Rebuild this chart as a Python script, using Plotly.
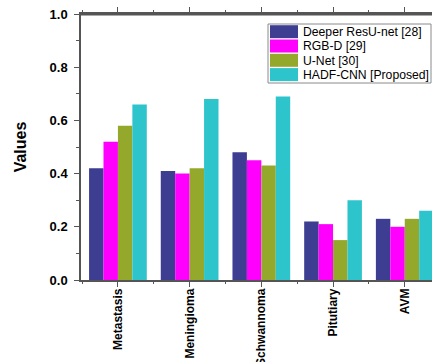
import plotly.graph_objects as go

categories = ["Metastasis", "Meningioma", "Schwannoma", "Pitutiary", "AVM"]
series_names = ["Deeper ResU-net [28]", "RGB-D [29]", "U-Net [30]", "HADF-CNN [Proposed]"]
deeper_resunet = [0.42, 0.41, 0.48, 0.22, 0.23]
rgb_d = [0.52, 0.40, 0.45, 0.21, 0.20]
u_net = [0.58, 0.42, 0.43, 0.15, 0.23]
hadf_cnn = [0.66, 0.68, 0.69, 0.30, 0.26]
y_tick_values = [0.0, 0.2, 0.4, 0.6, 0.8, 1.0]

series_values = [deeper_resunet, rgb_d, u_net, hadf_cnn]
colors = ["#3D3D92", "#FF00FF", "#94A82C", "#2EC4CC"]

W, H = 432, 362
L, R, T, B = 81, 0, 14, 82
pw, ph = W - L - R, H - T - B

fig = go.Figure()
xs = list(range(len(categories)))
for name, vals, col in zip(series_names, series_values, colors):
    fig.add_trace(go.Bar(x=xs, y=vals, name=name, marker=dict(color=col, line=dict(width=0)),
                         showlegend=False))

axis_col = "#555555"
FONT = "Liberation Sans, Arial, sans-serif"
fig.update_layout(
    width=W, height=H,
    margin=dict(l=L, r=R, t=T, b=B, pad=0),
    paper_bgcolor="white", plot_bgcolor="white",
    barmode="group", bargap=0.195, bargroupgap=0,
    font=dict(family=FONT, color="black"),
    xaxis=dict(
        range=[-0.515, 4.38], tickmode="array", tickvals=xs, ticktext=categories,
        tickangle=-90, ticks="outside", ticklen=5, tickwidth=1.2, tickcolor=axis_col,
        showline=True, linecolor=axis_col, linewidth=1.5, mirror="all",
        showgrid=False, zeroline=False, automargin=False, ticklabeloverflow="allow",
        tickfont=dict(size=12, family=FONT, weight="bold", color="black"),
        minor=dict(tickmode="array", tickvals=[i + 0.5 for i in range(-1, len(categories))],
                   ticks="outside", ticklen=2.5, tickwidth=1.2, tickcolor=axis_col),
        ticklabelstandoff=-3,
    ),
    yaxis=dict(
        range=[0, 1.0], tickmode="array", tickvals=y_tick_values, tickformat=".1f",
        ticks="outside", ticklen=5, tickwidth=1.2, tickcolor=axis_col,
        showline=True, linecolor=axis_col, linewidth=1.5, mirror=False,
        showgrid=False, zeroline=False, automargin=False, ticklabeloverflow="allow",
        tickfont=dict(size=13, family=FONT, weight="bold", color="black"),
        minor=dict(dtick=0.1, tick0=0, ticks="outside", ticklen=3, tickwidth=1.2, tickcolor=axis_col),
        ticklabelstandoff=4,
        title=dict(text="Values", font=dict(size=16, family=FONT, weight="bold", color="black"),
                   standoff=19),
    ),
)

# top frame line of the plot area, drawn just inside the top edge
fig.add_shape(type="line", xref="paper", yref="paper", x0=0, x1=1, y0=0.9985, y1=0.9985,
              line=dict(color=axis_col, width=2), layer="above")

# custom legend with wide swatches (pixel layout converted to paper coordinates)
def px_x(p):
    return (p - L) / pw

def px_y(p):
    return (H - B - p) / ph

box_l, box_r, box_t, box_b = 268, 431, 24, 83
fig.add_shape(type="rect", xref="paper", yref="paper",
              x0=px_x(box_l), x1=px_x(box_r), y0=px_y(box_b), y1=px_y(box_t),
              line=dict(color="#8a8a8a", width=1), fillcolor="white", layer="above")
row_h = 14.3
for i, (name, col) in enumerate(zip(series_names, colors)):
    top = 25.2 + i * row_h
    fig.add_shape(type="rect", xref="paper", yref="paper",
                  x0=px_x(270), x1=px_x(298), y0=px_y(top + 13), y1=px_y(top),
                  line=dict(width=0), fillcolor=col, layer="above")
    fig.add_annotation(xref="paper", yref="paper", x=px_x(301), y=px_y(top + 6.8),
                       text=name, showarrow=False, xanchor="left", yanchor="middle",
                       font=dict(size=12.2, family=FONT, color="black"))

fig.write_html("out.html", config={"displayModeBar": False},
               post_script="document.body.style.margin='0px';")
